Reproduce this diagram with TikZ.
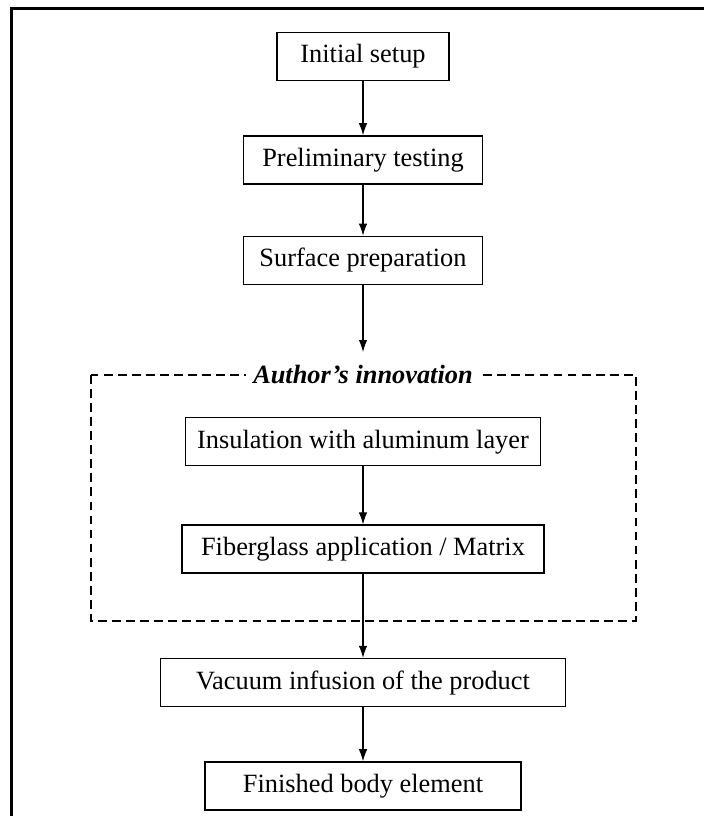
\documentclass[tikz,border=0pt]{standalone}
\usepackage{fontspec}
\setmainfont{Liberation Serif}
\usepackage{tikz}
\usetikzlibrary{arrows.meta,positioning}
\tikzset{
  stepbox/.style = {draw, line width=0.8pt, fill=white,
                    font=\fontsize{15}{18}\selectfont,
                    minimum height=0.96cm, align=center},
  arr/.style     = {-{Latex[length=2.4mm,width=1.7mm]}, line width=0.6pt},
  groupline/.style = {dashed, dash pattern=on 5pt off 3pt, line width=0.7pt},
  grouptitle/.style = {fill=white, inner xsep=4pt,
                       font=\fontsize{15}{18}\selectfont\bfseries\itshape}
}
\begin{document}
\begin{tikzpicture}[node distance=1.08cm]
\useasboundingbox (0,0) rectangle (14.06,-16.32);
% outer frame (cut off at right and bottom)
\draw[line width=1.2pt] (0.23,-17) -- (0.23,-0.17) -- (15,-0.17);
\node[stepbox, minimum width=3.44cm] (init) at (7.26,-1.13) {Initial setup};
\node[stepbox, minimum width=4.78cm, below=1.08cm of init]  (prelim)
      {Preliminary testing};
\node[stepbox, minimum width=4.78cm, below=1.02cm of prelim] (surface)
      {Surface preparation};
\coordinate[below=1.34cm of surface] (innovin);
\node[stepbox, minimum width=7.1cm, below=2.64cm of surface] (insul)
      {Insulation with aluminum layer};
\node[stepbox, minimum width=7.24cm, below=1.16cm of insul] (fiber)
      {Fiberglass application / Matrix};
\node[stepbox, minimum width=8.1cm, below=1.68cm of fiber] (vacuum)
      {Vacuum infusion of the product};
\node[stepbox, minimum width=6.32cm, below=1.08cm of vacuum] (finished)
      {Finished body element};
% author's innovation group
\draw[groupline] (1.82,-7.5) rectangle (12.72,-12.42);
\node[grouptitle] (innovtitle) at (7.26,-7.5) {Author’s innovation};
\draw[arr] (init)    -- (prelim);
\draw[arr] (prelim)  -- (surface);
\draw[arr] (surface) -- (innovin);
\draw[arr] (insul)   -- (fiber);
\draw[arr] (fiber)   -- (vacuum);
\draw[arr] (vacuum)  -- (finished);
\end{tikzpicture}
\end{document}
